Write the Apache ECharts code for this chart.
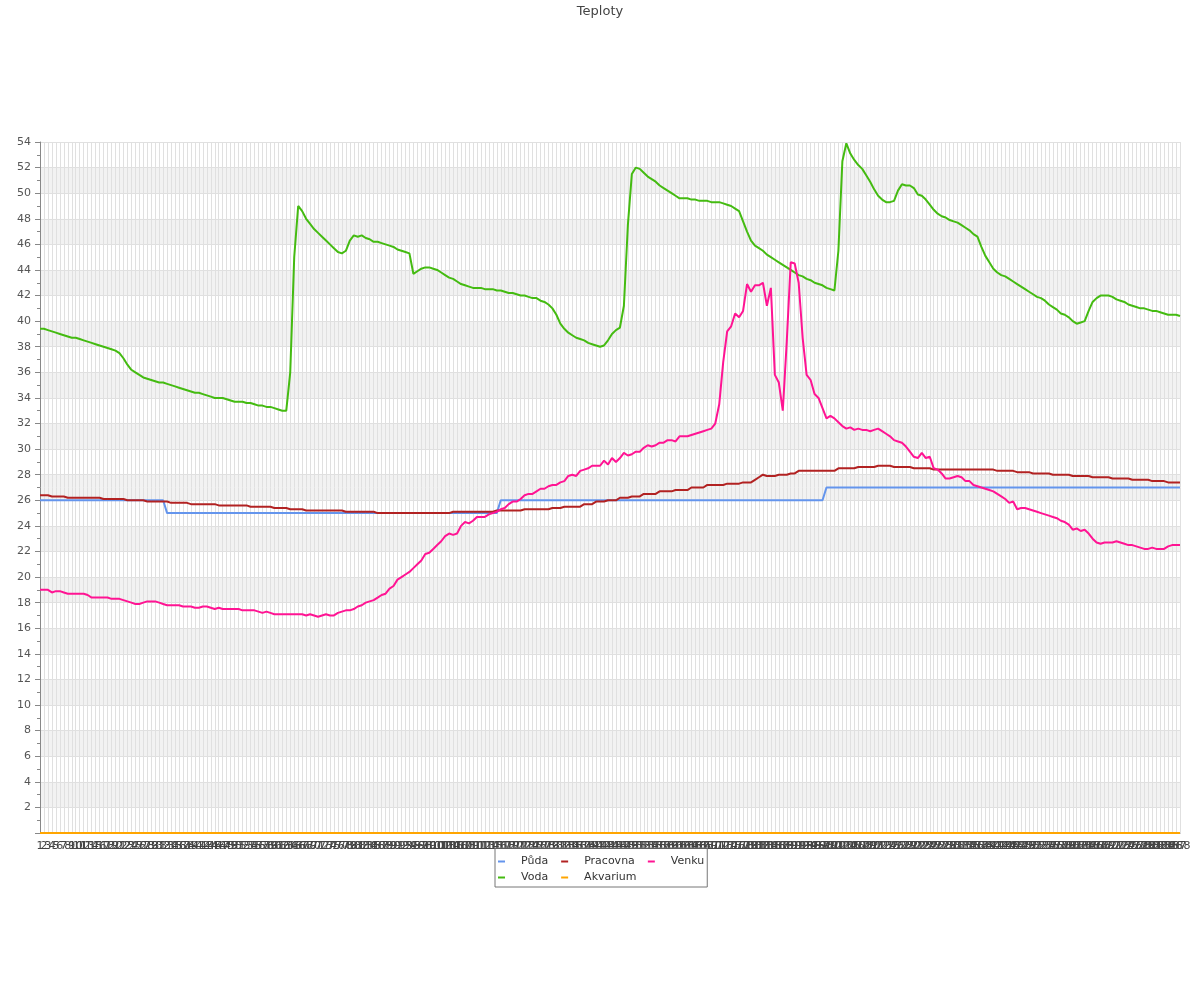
<!DOCTYPE html>
<html>
<head>
<meta charset="utf-8">
<script src="https://cdn.jsdelivr.net/npm/echarts@6/dist/echarts.min.js"></script>
<style>html,body{margin:0;padding:0;background:#fff}#chart{width:1200px;height:1000px}</style>
</head>
<body>
<div id="chart"></div>
<script>
const categories = [
'1','2','3','4','5','6','7','8','9','10','11','12','13','14','15','16','17','18','19','20',
'21','22','23','24','25','26','27','28','29','30','31','32','33','34','35','36','37','38','39','40',
'41','42','43','44','45','46','47','48','49','50','51','52','53','54','55','56','57','58','59','60',
'61','62','63','64','65','66','67','68','69','70','71','72','73','74','75','76','77','78','79','80',
'81','82','83','84','85','86','87','88','89','90','91','92','93','94','95','96','97','98','99','100',
'101','102','103','104','105','106','107','108','109','110','111','112','113','114','115','116','117','118','119','120',
'121','122','123','124','125','126','127','128','129','130','131','132','133','134','135','136','137','138','139','140',
'141','142','143','144','145','146','147','148','149','150','151','152','153','154','155','156','157','158','159','160',
'161','162','163','164','165','166','167','168','169','170','171','172','173','174','175','176','177','178','179','180',
'181','182','183','184','185','186','187','188','189','190','191','192','193','194','195','196','197','198','199','200',
'201','202','203','204','205','206','207','208','209','210','211','212','213','214','215','216','217','218','219','220',
'221','222','223','224','225','226','227','228','229','230','231','232','233','234','235','236','237','238','239','240',
'241','242','243','244','245','246','247','248','249','250','251','252','253','254','255','256','257','258','259','260',
'261','262','263','264','265','266','267','268','269','270','271','272','273','274','275','276','277','278','279','280',
'281','282','283','284','285','286','287','288'
];

const puda = [
26,26,26,26,26,26,26,26,26,26, 26,26,26,26,26,26,26,26,26,26, 26,26,26,26,26,26,26,26,26,26, 26,26,
25,25,25,25,25,25,25,25, 25,25,25,25,25,25,25,25,25,25, 25,25,25,25,25,25,25,25,25,25, 25,25,25,25,25,25,25,25,25,25,
25,25,25,25,25,25,25,25,25,25, 25,25,25,25,25,25,25,25,25,25, 25,25,25,25,25,25,25,25,25,25, 25,25,25,25,25,25,25,25,25,25,
25,25,25,25,25,25,
26,26,26,26, 26,26,26,26,26,26,26,26,26,26, 26,26,26,26,26,26,26,26,26,26, 26,26,26,26,26,26,26,26,26,26,
26,26,26,26,26,26,26,26,26,26, 26,26,26,26,26,26,26,26,26,26, 26,26,26,26,26,26,26,26,26,26, 26,26,26,26,26,26,26,26,
26,26,26,26,26,26,26,26,26,26,
27,27, 27,27,27,27,27,27,27,27,27,27, 27,27,27,27,27,27,27,27,27,27, 27,27,27,27,27,27,27,27,27,27,
27,27,27,27,27,27,27,27,27,27, 27,27,27,27,27,27,27,27,27,27, 27,27,27,27,27,27,27,27,27,27, 27,27,27,27,27,27,27,27,27,27,
27,27,27,27,27,27,27,27,27,27, 27,27,27,27,27,27,27,27
];

const voda = [
39.4,39.4,39.3,39.2,39.1,39.0,38.9,38.8,38.7,38.7,
38.6,38.5,38.4,38.3,38.2,38.1,38.0,37.9,37.8,37.7,
37.5,37.1,36.6,36.2,36.0,35.8,35.6,35.5,35.4,35.3,
35.2,35.2,35.1,35.0,34.9,34.8,34.7,34.6,34.5,34.4,
34.4,34.3,34.2,34.1,34.0,34.0,34.0,33.9,33.8,33.7,
33.7,33.7,33.6,33.6,33.5,33.4,33.4,33.3,33.3,33.2,
33.1,33.0,33.0,36.0,45.0,49.0,48.6,48.0,47.6,47.2,
46.9,46.6,46.3,46.0,45.7,45.4,45.3,45.5,46.3,46.7,
46.6,46.7,46.5,46.4,46.2,46.2,46.1,46.0,45.9,45.8,
45.6,45.5,45.4,45.3,43.7,43.9,44.1,44.2,44.2,44.1,
44.0,43.8,43.6,43.4,43.3,43.1,42.9,42.8,42.7,42.6,
42.6,42.6,42.5,42.5,42.5,42.4,42.4,42.3,42.2,42.2,
42.1,42.0,42.0,41.9,41.8,41.8,41.6,41.5,41.3,41.0,
40.5,39.8,39.4,39.1,38.9,38.7,38.6,38.5,38.3,38.2,
38.1,38.0,38.1,38.5,39.0,39.3,39.5,41.2,47.5,51.5,
52.0,51.9,51.6,51.3,51.1,50.9,50.6,50.4,50.2,50.0,
49.8,49.6,49.6,49.6,49.5,49.5,49.4,49.4,49.4,49.3,
49.3,49.3,49.2,49.1,49.0,48.8,48.6,47.8,47.0,46.3,
45.9,45.7,45.5,45.2,45.0,44.8,44.6,44.4,44.2,44.0,
43.8,43.6,43.5,43.3,43.2,43.0,42.9,42.8,42.6,42.5,
42.4,45.5,52.5,53.9,53.1,52.6,52.2,51.9,51.4,50.9,
50.3,49.8,49.5,49.3,49.3,49.4,50.2,50.7,50.6,50.6,
50.4,49.9,49.8,49.5,49.1,48.7,48.4,48.2,48.1,47.9,
47.8,47.7,47.5,47.3,47.1,46.8,46.6,45.8,45.1,44.6,
44.1,43.8,43.6,43.5,43.3,43.1,42.9,42.7,42.5,42.3,
42.1,41.9,41.8,41.6,41.3,41.1,40.9,40.6,40.5,40.3,
40.0,39.8,39.9,40.0,40.8,41.5,41.8,42.0,42.0,42.0,
41.9,41.7,41.6,41.5,41.3,41.2,41.1,41.0,41.0,40.9,
40.8,40.8,40.7,40.6,40.5,40.5,40.5,40.4
];

const pracovna = [
26.4,26.4,26.4,26.3,26.3,26.3,26.3,26.2,26.2,26.2,
26.2,26.2,26.2,26.2,26.2,26.2,26.1,26.1,26.1,26.1,
26.1,26.1,26.0,26.0,26.0,26.0,26.0,25.9,25.9,25.9,
25.9,25.9,25.9,25.8,25.8,25.8,25.8,25.8,25.7,25.7,
25.7,25.7,25.7,25.7,25.7,25.6,25.6,25.6,25.6,25.6,
25.6,25.6,25.6,25.5,25.5,25.5,25.5,25.5,25.5,25.4,
25.4,25.4,25.4,25.3,25.3,25.3,25.3,25.2,25.2,25.2,
25.2,25.2,25.2,25.2,25.2,25.2,25.2,25.1,25.1,25.1,
25.1,25.1,25.1,25.1,25.1,25.0,25.0,25.0,25.0,25.0,
25.0,25.0,25.0,25.0,25.0,25.0,25.0,25.0,25.0,25.0,
25.0,25.0,25.0,25.0,25.1,25.1,25.1,25.1,25.1,25.1,
25.1,25.1,25.1,25.1,25.1,25.2,25.2,25.2,25.2,25.2,
25.2,25.2,25.3,25.3,25.3,25.3,25.3,25.3,25.3,25.4,
25.4,25.4,25.5,25.5,25.5,25.5,25.5,25.7,25.7,25.7,
25.9,25.9,25.9,26.0,26.0,26.0,26.2,26.2,26.2,26.3,
26.3,26.3,26.5,26.5,26.5,26.5,26.7,26.7,26.7,26.7,
26.8,26.8,26.8,26.8,27.0,27.0,27.0,27.0,27.2,27.2,
27.2,27.2,27.2,27.3,27.3,27.3,27.3,27.4,27.4,27.4,
27.6,27.8,28.0,27.9,27.9,27.9,28.0,28.0,28.0,28.1,
28.1,28.3,28.3,28.3,28.3,28.3,28.3,28.3,28.3,28.3,
28.3,28.5,28.5,28.5,28.5,28.5,28.6,28.6,28.6,28.6,
28.6,28.7,28.7,28.7,28.7,28.6,28.6,28.6,28.6,28.6,
28.5,28.5,28.5,28.5,28.5,28.4,28.4,28.4,28.4,28.4,
28.4,28.4,28.4,28.4,28.4,28.4,28.4,28.4,28.4,28.4,
28.4,28.3,28.3,28.3,28.3,28.3,28.2,28.2,28.2,28.2,
28.1,28.1,28.1,28.1,28.1,28.0,28.0,28.0,28.0,28.0,
27.9,27.9,27.9,27.9,27.9,27.8,27.8,27.8,27.8,27.8,
27.7,27.7,27.7,27.7,27.7,27.6,27.6,27.6,27.6,27.6,
27.5,27.5,27.5,27.5,27.4,27.4,27.4,27.4
];

const akvarium = [
0,0,0,0,0,0,0,0,0,0,0,0,0,0,0,0,0,0,0,0,0,0,0,0,0,0,0,0,0,0,0,0,0,0,0,0,0,0,0,0,
0,0,0,0,0,0,0,0,0,0,0,0,0,0,0,0,0,0,0,0,0,0,0,0,0,0,0,0,0,0,0,0,0,0,0,0,0,0,0,0,
0,0,0,0,0,0,0,0,0,0,0,0,0,0,0,0,0,0,0,0,0,0,0,0,0,0,0,0,0,0,0,0,0,0,0,0,0,0,0,0,
0,0,0,0,0,0,0,0,0,0,0,0,0,0,0,0,0,0,0,0,0,0,0,0,0,0,0,0,0,0,0,0,0,0,0,0,0,0,0,0,
0,0,0,0,0,0,0,0,0,0,0,0,0,0,0,0,0,0,0,0,0,0,0,0,0,0,0,0,0,0,0,0,0,0,0,0,0,0,0,0,
0,0,0,0,0,0,0,0,0,0,0,0,0,0,0,0,0,0,0,0,0,0,0,0,0,0,0,0,0,0,0,0,0,0,0,0,0,0,0,0,
0,0,0,0,0,0,0,0,0,0,0,0,0,0,0,0,0,0,0,0,0,0,0,0,0,0,0,0,0,0,0,0,0,0,0,0,0,0,0,0,
0,0,0,0,0,0,0,0
];

const venku = [
19.0,19.0,19.0,18.8,18.9,18.9,18.8,18.7,18.7,18.7,
18.7,18.7,18.6,18.4,18.4,18.4,18.4,18.4,18.3,18.3,
18.3,18.2,18.1,18.0,17.9,17.9,18.0,18.1,18.1,18.1,
18.0,17.9,17.8,17.8,17.8,17.8,17.7,17.7,17.7,17.6,
17.6,17.7,17.7,17.6,17.5,17.6,17.5,17.5,17.5,17.5,
17.5,17.4,17.4,17.4,17.4,17.3,17.2,17.3,17.2,17.1,
17.1,17.1,17.1,17.1,17.1,17.1,17.1,17.0,17.1,17.0,
16.9,17.0,17.1,17.0,17.0,17.2,17.3,17.4,17.4,17.5,
17.7,17.8,18.0,18.1,18.2,18.4,18.6,18.7,19.1,19.3,
19.8,20.0,20.2,20.4,20.7,21.0,21.3,21.8,21.9,22.2,
22.5,22.8,23.2,23.4,23.3,23.4,24.0,24.3,24.2,24.4,
24.7,24.7,24.7,24.9,25.0,25.1,25.3,25.4,25.7,25.9,
25.9,26.1,26.4,26.5,26.5,26.7,26.9,26.9,27.1,27.2,
27.2,27.4,27.5,27.9,28.0,27.9,28.3,28.4,28.5,28.7,
28.7,28.7,29.1,28.8,29.3,29.0,29.3,29.7,29.5,29.6,
29.8,29.8,30.1,30.3,30.2,30.3,30.5,30.5,30.7,30.7,
30.6,31.0,31.0,31.0,31.1,31.2,31.3,31.4,31.5,31.6,
32.0,33.5,36.8,39.2,39.6,40.6,40.3,40.8,42.9,42.3,
42.8,42.8,43.0,41.2,42.6,35.8,35.2,33.0,38.4,44.6,
44.5,43.0,38.7,35.8,35.4,34.3,34.0,33.2,32.4,32.6,
32.4,32.1,31.8,31.6,31.7,31.5,31.6,31.5,31.5,31.4,
31.5,31.6,31.4,31.2,31.0,30.7,30.6,30.5,30.2,29.8,
29.4,29.3,29.7,29.3,29.4,28.5,28.4,28.1,27.7,27.7,
27.8,27.9,27.8,27.5,27.5,27.2,27.1,27.0,26.9,26.8,
26.7,26.5,26.3,26.1,25.8,25.9,25.3,25.4,25.4,25.3,
25.2,25.1,25.0,24.9,24.8,24.7,24.6,24.4,24.3,24.1,
23.7,23.8,23.6,23.7,23.4,23.0,22.7,22.6,22.7,22.7,
22.7,22.8,22.7,22.6,22.5,22.5,22.4,22.3,22.2,22.2,
22.3,22.2,22.2,22.2,22.4,22.5,22.5,22.5
];

const seriesNames = ['Půda','Voda','Pracovna','Akvarium','Venku'];
const seriesColors = ['#6495ed','#44bb11','#b22222','#ffa500','#ff1493'];
const seriesData = [puda, voda, pracovna, akvarium, venku];

const chart = echarts.init(document.getElementById('chart'), null, {renderer:'canvas'});
const legendText = {fontSize:11, color:'#333', fontFamily:'DejaVu Sans', padding:[0,0,0,11]};
chart.setOption({
  animation:false,
  textStyle:{fontFamily:'DejaVu Sans'},
  title:{text:'Teploty', left:'center', top:0, textStyle:{fontSize:13, fontWeight:'normal', color:'#444', fontFamily:'DejaVu Sans'}},
  legend:[
    {data:['Půda','Pracovna','Venku'], left:495, top:848, orient:'horizontal', itemGap:13, itemWidth:7, itemHeight:2, icon:'rect',
     padding:[8,3,20,3], borderColor:'#777', borderWidth:1, textStyle:legendText},
    {data:['Voda','Akvarium'], left:495, top:864, orient:'horizontal', itemGap:13, itemWidth:7, itemHeight:2, icon:'rect',
     padding:[8,3,6,3], textStyle:legendText}
  ],
  grid:{left:40, right:20, top:142, bottom:167, containLabel:false},
  xAxis:{
    type:'category', boundaryGap:false, data:categories,
    axisLine:{lineStyle:{color:'#888'}},
    axisTick:{show:false},
    axisLabel:{interval:0, fontSize:11, color:'#444', margin:8},
    splitLine:{show:true, interval:0, lineStyle:{color:'#e0e0e0', width:1}}
  },
  yAxis:{
    type:'value', min:0, max:54, interval:2,
    axisLine:{show:true, lineStyle:{color:'#888'}},
    axisTick:{show:true, length:5, lineStyle:{color:'#888'}},
    minorTick:{show:true, splitNumber:2, length:3, lineStyle:{color:'#888'}},
    axisLabel:{fontSize:11, color:'#555', margin:9, formatter:function(v){return v===0?'':String(v);}},
    splitLine:{show:true, lineStyle:{color:'#e0e0e0'}},
    splitArea:{show:true, areaStyle:{color:['#ffffff','#f2f2f2']}}
  },
  series: seriesNames.map(function(n,k){
    return {name:n, type:'line', data:seriesData[k], symbol:'none', color:seriesColors[k],
            lineStyle:{width:2, color:seriesColors[k]}};
  })
});
</script>
</body>
</html>
